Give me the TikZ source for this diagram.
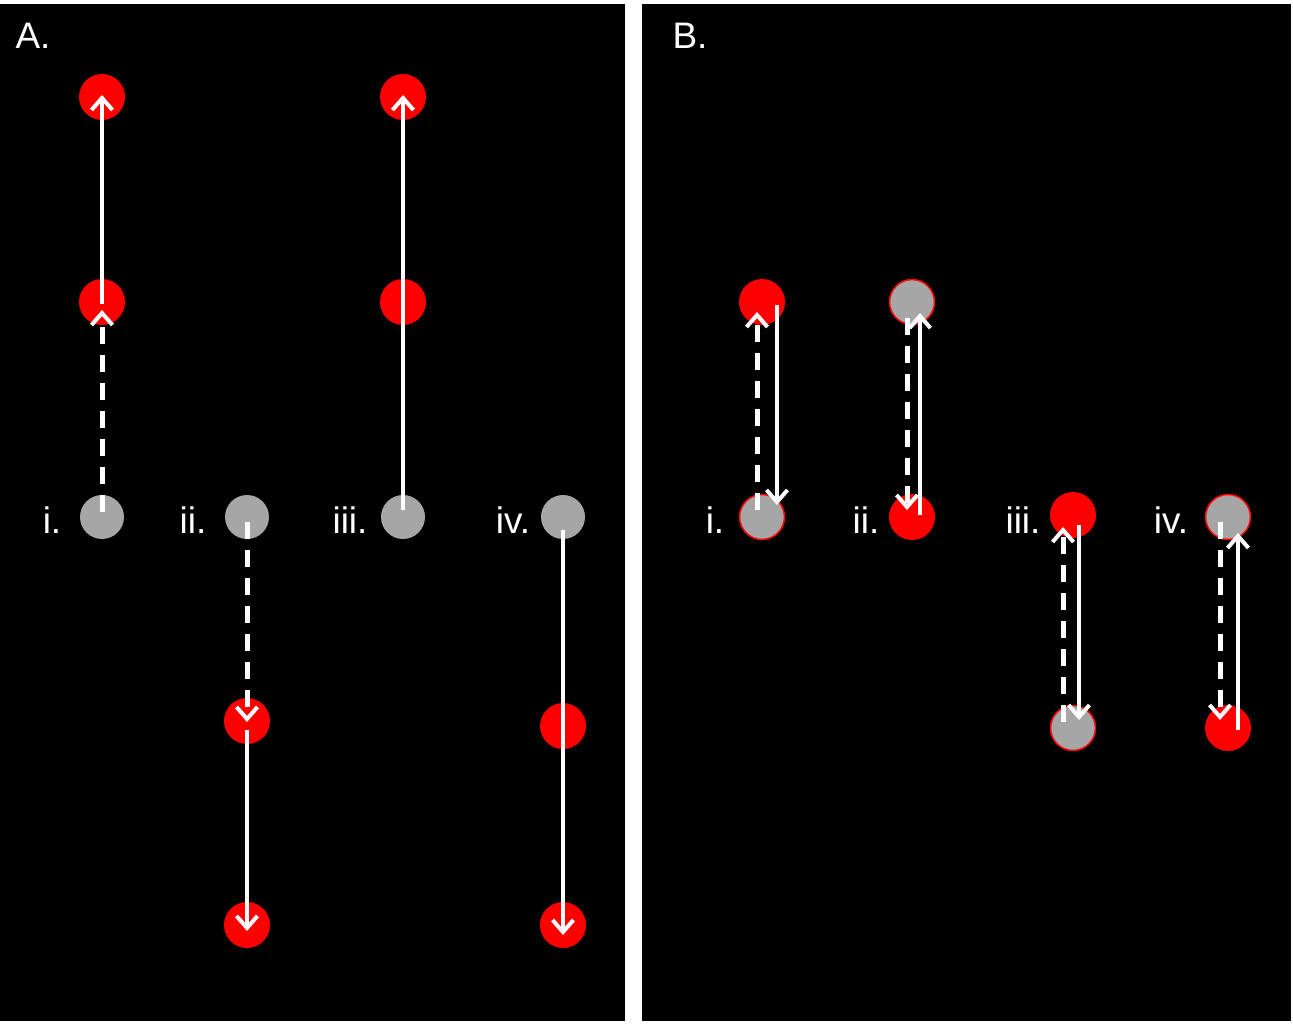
\documentclass[tikz,border=0pt]{standalone}
\usepackage{fontspec}
\setmainfont{Liberation Sans}
\usetikzlibrary{arrows.meta,calc}
\definecolor{ballred}{RGB}{255,0,0}
\definecolor{ballgray}{RGB}{166,166,166}

\begin{document}
\begin{tikzpicture}[x=0.02cm,y=-0.02cm]
\tikzset{
  redball/.style={circle,fill=ballred,minimum size=0.92cm,inner sep=0pt},
  grayball/.style={circle,fill=ballgray,minimum size=0.88cm,inner sep=0pt},
  mixball/.style={circle,fill=ballgray,draw=ballred,line width=0.03cm,minimum size=0.9cm,inner sep=0pt},
  steplabel/.style={text=white,font=\fontsize{21}{25}\selectfont,inner sep=0pt},
  solidmove/.style={draw=white,line width=0.08cm,-{Straight Barb[length=0.24cm,width=0.42cm,line width=0.08cm]}},
  dashmove/.style={draw=white,line width=0.1cm,dash pattern=on 0.34cm off 0.22cm,-{Straight Barb[length=0.24cm,width=0.42cm,line width=0.08cm]}}
}
% background and panels
\fill[white] (0,0) rectangle (1293,1023);
\fill[black] (0,4) rectangle (625,1021);
\fill[black] (642,4) rectangle (1291,1021);
\node[steplabel] (lbl_A) at (33,36) {A.};
\node[steplabel] (lbl_B) at (690,36) {B.};

% panel A
\node[grayball] (a_i0) at (102,517) {};
\node[redball] (a_i1) at (102,302) {};
\node[redball] (a_i2) at (102,97) {};
\node[grayball] (a_ii0) at (247,517) {};
\node[redball] (a_ii1) at (247,721) {};
\node[redball] (a_ii2) at (247,925) {};
\node[grayball] (a_iii0) at (403,517) {};
\node[redball] (a_iii1) at (403,302) {};
\node[redball] (a_iii2) at (403,97) {};
\node[grayball] (a_iv0) at (563,517) {};
\node[redball] (a_iv1) at (563,726) {};
\node[redball] (a_iv2) at (563,925) {};
\node[steplabel] (lbl_ai) at (52,520) {i.};
\node[steplabel] (lbl_aii) at (193,520) {ii.};
\node[steplabel] (lbl_aiii) at (350,520) {iii.};
\node[steplabel] (lbl_aiv) at (513,520) {iv.};
\draw[dashmove] ($(a_i0)+(0,-5)$) -- ($(a_i1)+(0,8)$);
\draw[solidmove] ($(a_i1)+(0,2)$) -- ($(a_i2)+(0,-2)$);
\draw[solidmove] ($(a_iii0)+(0,-7)$) -- ($(a_iii2)+(0,-2)$);
\draw[dashmove] ($(a_ii0)+(0,5)$) -- ($(a_ii1)+(0,1)$);
\draw[solidmove] ($(a_ii1)+(0,9)$) -- ($(a_ii2)+(0,6)$);
\draw[solidmove] ($(a_iv0)+(0,13)$) -- ($(a_iv2)+(0,10)$);

% panel B
\node[redball] (b_i1) at (762,302) {};
\node[mixball] (b_i0) at (762,517) {};
\node[mixball] (b_ii1) at (912,302) {};
\node[redball] (b_ii0) at (912,517) {};
\node[redball] (b_iii0) at (1073,515) {};
\node[mixball] (b_iii1) at (1073,728) {};
\node[mixball] (b_iv0) at (1228,517) {};
\node[redball] (b_iv1) at (1228,728) {};
\node[steplabel] (lbl_bi) at (715,520) {i.};
\node[steplabel] (lbl_bii) at (866,520) {ii.};
\node[steplabel] (lbl_biii) at (1023,520) {iii.};
\node[steplabel] (lbl_biv) at (1171,520) {iv.};
\draw[dashmove] ($(b_i0)+(-5,-7)$) -- ($(b_i1)+(-5,10)$);
\draw[solidmove] ($(b_i1)+(15,3)$) -- ($(b_i0)+(15,-12)$);
\draw[dashmove] ($(b_ii1)+(-5,16)$) -- ($(b_ii0)+(-5,-7)$);
\draw[solidmove] ($(b_ii0)+(8,-2)$) -- ($(b_ii1)+(8,11)$);
\draw[dashmove] ($(b_iii1)+(-10,-6)$) -- ($(b_iii0)+(-10,12)$);
\draw[solidmove] ($(b_iii0)+(6,10)$) -- ($(b_iii1)+(6,-8)$);
\draw[dashmove] ($(b_iv0)+(-8,5)$) -- ($(b_iv1)+(-8,-8)$);
\draw[solidmove] ($(b_iv1)+(10,2)$) -- ($(b_iv0)+(10,16)$);
\end{tikzpicture}
\end{document}
